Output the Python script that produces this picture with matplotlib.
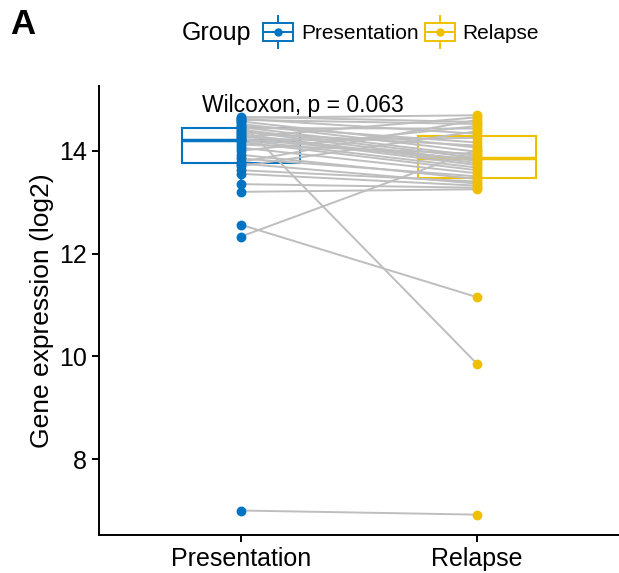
import matplotlib
matplotlib.use("Agg")
import matplotlib.pyplot as plt
from matplotlib.patches import Patch, Rectangle
from matplotlib.lines import Line2D
from matplotlib.legend_handler import HandlerBase

plt.rcParams['font.family'] = ['Liberation Sans', 'DejaVu Sans']

groups = ['Presentation', 'Relapse']
colors = ['#0073C2', '#EFC000']

# paired values, one entry per patient (log2 expression)
presentation = [7.00, 12.56, 12.33, 14.55, 13.20, 13.35, 13.55, 13.62, 13.70,
                13.75, 13.78, 13.85, 13.92, 14.00, 14.06, 14.12, 14.17, 14.20,
                14.21, 14.23, 14.26, 14.29, 14.32, 14.35, 14.38, 14.41, 14.44,
                14.46, 14.49, 14.52, 14.57, 14.60, 14.62, 14.64, 14.66]
relapse = [6.92, 11.15, 14.02, 9.85, 13.25, 13.28, 13.32, 13.40, 14.38,
           13.36, 14.60, 13.50, 13.45, 14.48, 13.56, 13.94, 13.62, 14.25,
           13.67, 13.83, 14.65, 13.72, 13.76, 14.10, 13.80, 13.86, 14.43,
           13.90, 14.16, 13.98, 14.06, 14.52, 14.33, 14.69, 14.56]
p_label = 'Wilcoxon, p = 0.063'


class BoxKey(HandlerBase):
    # boxplot-style legend key: box, median, whiskers and a dot
    def create_artists(self, legend, orig_handle, xdescent, ydescent,
                       width, height, fontsize, trans):
        col = orig_handle.get_edgecolor()
        x0, y0 = -xdescent, -ydescent
        cx = x0 + width / 2
        rect = Rectangle((x0, y0), width, height, fill=False, ec=col, lw=1.4,
                         transform=trans)
        med = Line2D([x0, x0 + width], [y0 + height / 2] * 2, color=col,
                     lw=1.4, transform=trans)
        wt = Line2D([cx, cx], [y0 + height, y0 + 1.45 * height], color=col,
                    lw=1.4, transform=trans)
        wb = Line2D([cx, cx], [y0 - 0.45 * height, y0], color=col, lw=1.4,
                    transform=trans)
        dot = Line2D([cx], [y0 + height / 2], marker='o', ms=5, color=col,
                     lw=0, transform=trans)
        return [rect, med, wt, wb, dot]


fig = plt.figure(figsize=(6.19, 5.73), dpi=100)
ax = fig.add_axes([0.16, 0.066, 0.84, 0.784])

bp = ax.boxplot([presentation, relapse], positions=[1, 2], widths=0.5,
                showfliers=False, patch_artist=True, zorder=1)
for i, col in enumerate(colors):
    bp['boxes'][i].set(facecolor='none', edgecolor=col, linewidth=1.5)
    bp['medians'][i].set(color=col, linewidth=2.5)
    for w in bp['whiskers'][2 * i:2 * i + 2]:
        w.set(color=col, linewidth=1.5)
    for c in bp['caps'][2 * i:2 * i + 2]:
        c.set(visible=False)

for a, b in zip(presentation, relapse):
    ax.plot([1, 2], [a, b], color='#BEBEBE', lw=1.4, zorder=2)

ax.scatter([1] * len(presentation), presentation, s=50, color=colors[0],
           zorder=3, linewidths=0)
ax.scatter([2] * len(relapse), relapse, s=50, color=colors[1], zorder=3,
           linewidths=0)

ax.text(0.836, 14.87, p_label, fontsize=16.5, ha='left', va='center')

ax.set_xlim(0.4, 2.6)
ax.set_ylim(6.52, 15.26)
ax.set_xticks([1, 2])
ax.set_xticklabels(groups, fontsize=18)
ax.set_yticks([8, 10, 12, 14])
ax.tick_params(axis='y', labelsize=18)
ax.tick_params(width=1.4, length=5, color='black')
ax.set_ylabel('Gene expression (log2)', fontsize=19)
for side in ['top', 'right']:
    ax.spines[side].set_visible(False)
for side in ['left', 'bottom']:
    ax.spines[side].set_linewidth(1.4)

handles = [Patch(edgecolor=c, facecolor='none', label=g)
           for g, c in zip(groups, colors)]
fig.legend(handles=handles, ncol=2, loc='center left',
           bbox_to_anchor=(0.395, 0.942), frameon=False, fontsize=15,
           handler_map={Patch: BoxKey()}, handlelength=1.45,
           handleheight=0.9, handletextpad=0.35, columnspacing=0.3)
fig.text(0.294, 0.942, 'Group', fontsize=18, ha='left', va='center')
fig.text(0.016, 0.958, 'A', fontsize=25, fontweight='bold', ha='left',
         va='center')

fig.savefig('out.png', dpi=100)
